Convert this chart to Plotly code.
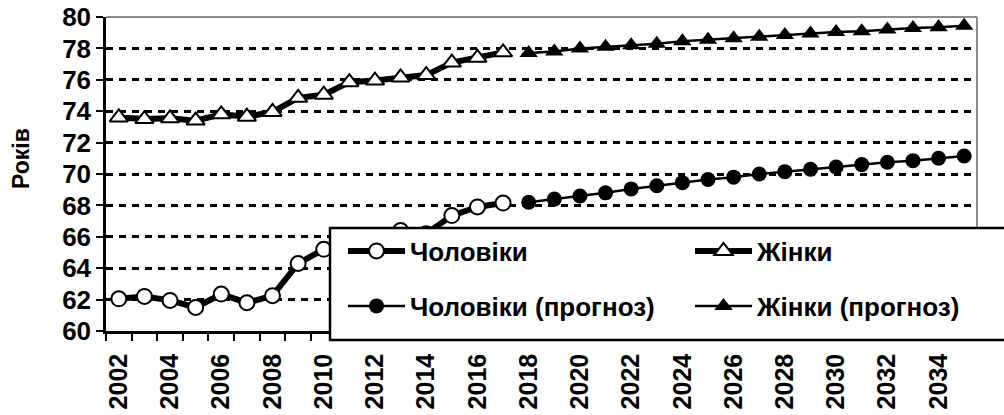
import plotly.graph_objects as go

# Life expectancy at birth, years
years_actual = list(range(2002, 2018))
years_forecast = list(range(2018, 2036))

men_actual = [62.05, 62.2, 61.95, 61.5, 62.35, 61.8, 62.25, 64.3,
              65.2, 65.6, 66.0, 66.4, 66.2, 67.35, 67.9, 68.15]
women_actual = [73.6, 73.5, 73.55, 73.4, 73.8, 73.65, 73.95, 74.85,
                75.05, 75.85, 75.95, 76.15, 76.3, 77.1, 77.4, 77.75]

men_forecast = [68.2, 68.4, 68.6, 68.8, 69.05, 69.25, 69.45, 69.65, 69.8,
                70.0, 70.15, 70.3, 70.45, 70.6, 70.75, 70.85, 71.0, 71.15]
women_forecast = [77.7, 77.8, 78.0, 78.1, 78.2, 78.3, 78.45, 78.55, 78.65,
                  78.75, 78.85, 78.95, 79.05, 79.1, 79.2, 79.3, 79.35, 79.45]

tick_years = list(range(2002, 2036, 2))
tick_labels = [str(y) for y in tick_years]
y_ticks = list(range(60, 81, 2))

FONT = "Liberation Sans, Arial, sans-serif"

fig = go.Figure()

fig.add_trace(go.Scatter(
    x=years_actual, y=men_actual, name="Чоловіки", mode="lines+markers",
    line=dict(color="black", width=6),
    marker=dict(symbol="circle", size=15, color="white",
                line=dict(color="black", width=2)),
    legend="legend"))
fig.add_trace(go.Scatter(
    x=years_actual, y=women_actual, name="Жінки", mode="lines+markers",
    line=dict(color="black", width=6),
    marker=dict(symbol="triangle-up", size=16, color="white",
                line=dict(color="black", width=2)),
    legend="legend"))
fig.add_trace(go.Scatter(
    x=years_forecast, y=men_forecast, name="Чоловіки (прогноз)",
    mode="lines+markers",
    line=dict(color="black", width=2.5),
    marker=dict(symbol="circle", size=15, color="black"),
    legend="legend2"))
fig.add_trace(go.Scatter(
    x=years_forecast, y=women_forecast, name="Жінки (прогноз)",
    mode="lines+markers",
    line=dict(color="black", width=2.5),
    marker=dict(symbol="triangle-up", size=16, color="black"),
    legend="legend2"))

W, H = 1004, 415
L, R, T, B = 106, 27, 17, 84
pw, ph = W - L - R, H - T - B


def px_x(x):
    return (x - L) / pw


def px_y(y):
    return (H - B - y) / ph


legend_common = dict(
    orientation="h", bgcolor="rgba(0,0,0,0)", borderwidth=0,
    entrywidth=275, entrywidthmode="pixels", itemwidth=57,
    xanchor="left", yanchor="middle",
    font=dict(family=FONT, size=26, color="black", weight="bold"),
)

fig.update_layout(
    width=W, height=H,
    margin=dict(l=L, r=R, t=T, b=B, autoexpand=False),
    paper_bgcolor="white", plot_bgcolor="white",
    font=dict(family=FONT, color="black", weight="bold"),
    legend=dict(x=px_x(343), y=px_y(251), **legend_common),
    legend2=dict(x=px_x(343), y=px_y(306), **legend_common),
    xaxis=dict(
        range=[2001.5, 2035.5], showgrid=False, zeroline=False,
        showline=True, linecolor="black", linewidth=2.5,
        tickmode="array", tickvals=tick_years, ticktext=tick_labels,
        ticks="", tickangle=-90, ticklabelstandoff=10,
        tickfont=dict(family=FONT, size=25, color="black", weight="bold"),
        minor=dict(tickmode="array",
                   tickvals=[y - 0.5 for y in range(2002, 2037)],
                   ticks="outside", ticklen=7, tickwidth=2,
                   tickcolor="black", showgrid=False),
        automargin=False,
    ),
    yaxis=dict(
        range=[60, 80], tickmode="array", tickvals=y_ticks,
        showgrid=True, gridcolor="black", gridwidth=3, griddash="7px,6px",
        zeroline=False, showline=True, linecolor="black", linewidth=2.5,
        ticks="outside", ticklen=7, tickwidth=2, tickcolor="black",
        tickfont=dict(family=FONT, size=26, color="black", weight="bold"),
        automargin=False,
    ),
    annotations=[
        dict(text="Років", textangle=-90, xref="paper", yref="paper",
             x=px_x(21), y=px_y(159), xanchor="center", yanchor="middle",
             showarrow=False,
             font=dict(family=FONT, size=23, color="black", weight="bold")),
    ],
    shapes=[
        # grey frame on the top and right of the plot area
        dict(type="line", xref="paper", yref="paper", x0=0, x1=1, y0=1, y1=1,
             line=dict(color="#8c8c8c", width=2), layer="below"),
        dict(type="line", xref="paper", yref="paper", x0=1, x1=1, y0=0, y1=1,
             line=dict(color="#8c8c8c", width=2), layer="above"),
        # legend box
        dict(type="rect", xref="paper", yref="paper",
             x0=px_x(330), x1=px_x(1010), y0=px_y(340), y1=px_y(228),
             fillcolor="white", line=dict(color="black", width=2.5),
             layer="above"),
    ],
)

fig.write_html("out.html")
